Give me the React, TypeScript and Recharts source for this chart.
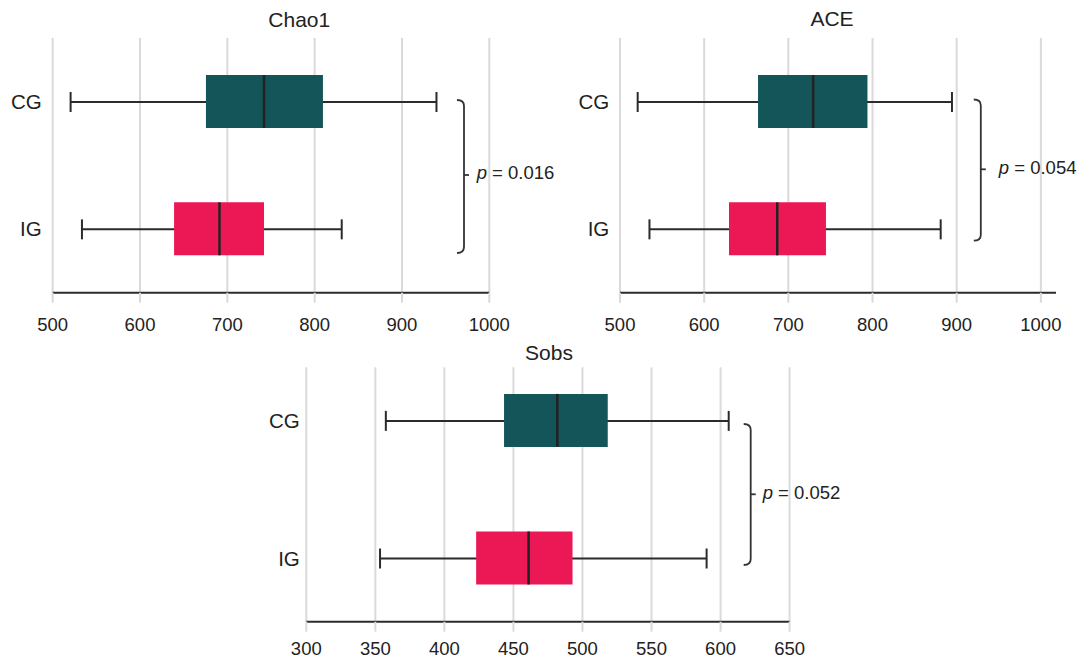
import React from "react";
import { ComposedChart, Bar, Cell, XAxis, YAxis, CartesianGrid } from "recharts";

const FONT = "'Liberation Sans', Arial, Helvetica, sans-serif";

const groups = ["CG", "IG"];
const groupColors = ["#14555a", "#ec1856"];

// Chao1
const chao1Min = [520.5, 533.5];
const chao1Q1 = [675.5, 639];
const chao1Median = [742, 691];
const chao1Q3 = [809.5, 742];
const chao1Max = [939.5, 831];
const chao1Ticks = [500, 600, 700, 800, 900, 1000];

// ACE
const aceMin = [521, 535];
const aceQ1 = [664, 629.5];
const aceMedian = [729.5, 686.8];
const aceQ3 = [794, 744.7];
const aceMax = [894.4, 881];
const aceTicks = [500, 600, 700, 800, 900, 1000];

// Sobs
const sobsMin = [357.6, 353.4];
const sobsQ1 = [443.2, 423];
const sobsMedian = [481.8, 461];
const sobsQ3 = [518.3, 492.8];
const sobsMax = [605.9, 589.9];
const sobsTicks = [300, 350, 400, 450, 500, 550, 600, 650];

const pValues = ["0.016", "0.054", "0.052"];

type Row = { group: string; min: number; q1: number; median: number; q3: number; max: number };

function buildRows(min: number[], q1: number[], median: number[], q3: number[], max: number[]): Row[] {
  return groups.map((g, i) => ({ group: g, min: min[i], q1: q1[i], median: median[i], q3: q3[i], max: max[i] }));
}

const chao1Rows = buildRows(chao1Min, chao1Q1, chao1Median, chao1Q3, chao1Max);
const aceRows = buildRows(aceMin, aceQ1, aceMedian, aceQ3, aceMax);
const sobsRows = buildRows(sobsMin, sobsQ1, sobsMedian, sobsQ3, sobsMax);

function WhiskerShape(props: any) {
  const { x, y, width, height } = props;
  const cy = y + height / 2;
  return (
    <g stroke="#2b2b2b" strokeWidth={2} fill="none">
      <line x1={x} y1={cy} x2={x + width} y2={cy} />
      <line x1={x} y1={y} x2={x} y2={y + height} />
      <line x1={x + width} y1={y} x2={x + width} y2={y + height} />
    </g>
  );
}

// bar runs q1 -> median, so its right edge is the median
function MedianShape(props: any) {
  const { x, y, width, height } = props;
  return <line x1={x + width} y1={y} x2={x + width} y2={y + height} stroke="#222" strokeWidth={2.5} />;
}

function BoxPanel({
  rows,
  domain,
  ticks,
  box,
  margin,
  labelGap,
  tickGap,
  catPadding,
}: any) {
  return (
    <div style={{ position: "absolute", left: box.left, top: box.top }}>
      <ComposedChart width={box.width} height={box.height} data={rows} layout="vertical" margin={margin}>
        <CartesianGrid horizontal={false} yAxisId="w" verticalValues={ticks} stroke="#dadada" strokeWidth={2} />
        <XAxis
          type="number"
          domain={domain}
          ticks={ticks}
          interval={0}
          height={40}
          tick={{ fill: "#222", fontSize: 18.5, fontFamily: FONT }}
          tickLine={{ stroke: "#dadada", strokeWidth: 2 }}
          tickSize={10}
          tickMargin={tickGap}
          axisLine={{ stroke: "#2b2b2b", strokeWidth: 2 }}
        />
        <YAxis
          yAxisId="w"
          type="category"
          dataKey="group"
          width={45}
          axisLine={false}
          tickLine={false}
          tickSize={0}
          tickMargin={labelGap}
          padding={catPadding}
          tick={{ fill: "#222", fontSize: 20.5, fontFamily: FONT }}
        />
        <YAxis yAxisId="b" type="category" dataKey="group" hide width={0} orientation="right" padding={catPadding} />
        <YAxis yAxisId="m" type="category" dataKey="group" hide width={0} orientation="right" padding={catPadding} />
        <Bar yAxisId="w" dataKey={(d: Row) => [d.min, d.max]} barSize={20} shape={WhiskerShape} isAnimationActive={false} />
        <Bar yAxisId="b" dataKey={(d: Row) => [d.q1, d.q3]} barSize={53} isAnimationActive={false}>
          {rows.map((r: Row, i: number) => (
            <Cell key={r.group} fill={groupColors[i]} />
          ))}
        </Bar>
        <Bar yAxisId="m" dataKey={(d: Row) => [d.q1, d.median]} barSize={53} shape={MedianShape} isAnimationActive={false} />
      </ComposedChart>
    </div>
  );
}

function Brace({ x, top, bottom, mid, label, tx, ty }: any) {
  const d = `M ${x - 7} ${top} Q ${x} ${top} ${x} ${top + 6} L ${x} ${bottom - 6} Q ${x} ${bottom} ${x - 7} ${bottom}`;
  return (
    <g>
      <path d={d} stroke="#333" strokeWidth={1.8} fill="none" />
      <line x1={x} y1={mid} x2={x + 5} y2={mid} stroke="#333" strokeWidth={1.8} />
      <text x={tx} y={ty} fontSize={18.5} fontFamily={FONT} fill="#222">
        <tspan fontStyle="italic">p</tspan>
        <tspan> = {label}</tspan>
      </text>
    </g>
  );
}

export default function App() {
  return (
    <div style={{ position: "absolute", left: 0, top: 0, width: 1083, height: 662, background: "#fff", fontFamily: FONT }}>
      {/* Chao1 */}
      <BoxPanel
        rows={chao1Rows}
        domain={[500, 1000]}
        ticks={chao1Ticks}
        box={{ left: 0, top: 0, width: 540, height: 340 }}
        margin={{ top: 38, left: 7.7, right: 50.7, bottom: 7.3 }}
        labelGap={11}
        tickGap={15.6}
        catPadding={{ top: 0, bottom: 0 }}
      />
      {/* ACE */}
      <BoxPanel
        rows={aceRows}
        domain={[500, 1018]}
        ticks={aceTicks}
        box={{ left: 540, top: 0, width: 543, height: 340 }}
        margin={{ top: 38, left: 35, right: 27, bottom: 7.3 }}
        labelGap={10.7}
        tickGap={15.6}
        catPadding={{ top: 0, bottom: 0 }}
      />
      {/* Sobs */}
      <BoxPanel
        rows={sobsRows}
        domain={[300, 650]}
        ticks={sobsTicks}
        box={{ left: 250, top: 340, width: 600, height: 322 }}
        margin={{ top: 27.3, left: 11.3, right: 60.4, bottom: 0.3 }}
        labelGap={6.5}
        tickGap={10}
        catPadding={{ top: -15.4, bottom: -5.4 }}
      />

      <svg width={1083} height={662} style={{ position: "absolute", left: 0, top: 0, pointerEvents: "none" }}>
        <text x={299.3} y={26.5} textAnchor="middle" fontSize={21} fontFamily={FONT} fill="#222">Chao1</text>
        <text x={832} y={26} textAnchor="middle" fontSize={21} fontFamily={FONT} fill="#222">ACE</text>
        <text x={549} y={359.5} textAnchor="middle" fontSize={21} fontFamily={FONT} fill="#222">Sobs</text>
        <Brace x={464} top={100} bottom={253} mid={175} label={pValues[0]} tx={476.7} ty={179.3} />
        <Brace x={980.8} top={99.5} bottom={240.7} mid={169.3} label={pValues[1]} tx={998.8} ty={173.5} />
        <Brace x={750.7} top={424} bottom={565} mid={494.3} label={pValues[2]} tx={762.7} ty={499.3} />
      </svg>
    </div>
  );
}
